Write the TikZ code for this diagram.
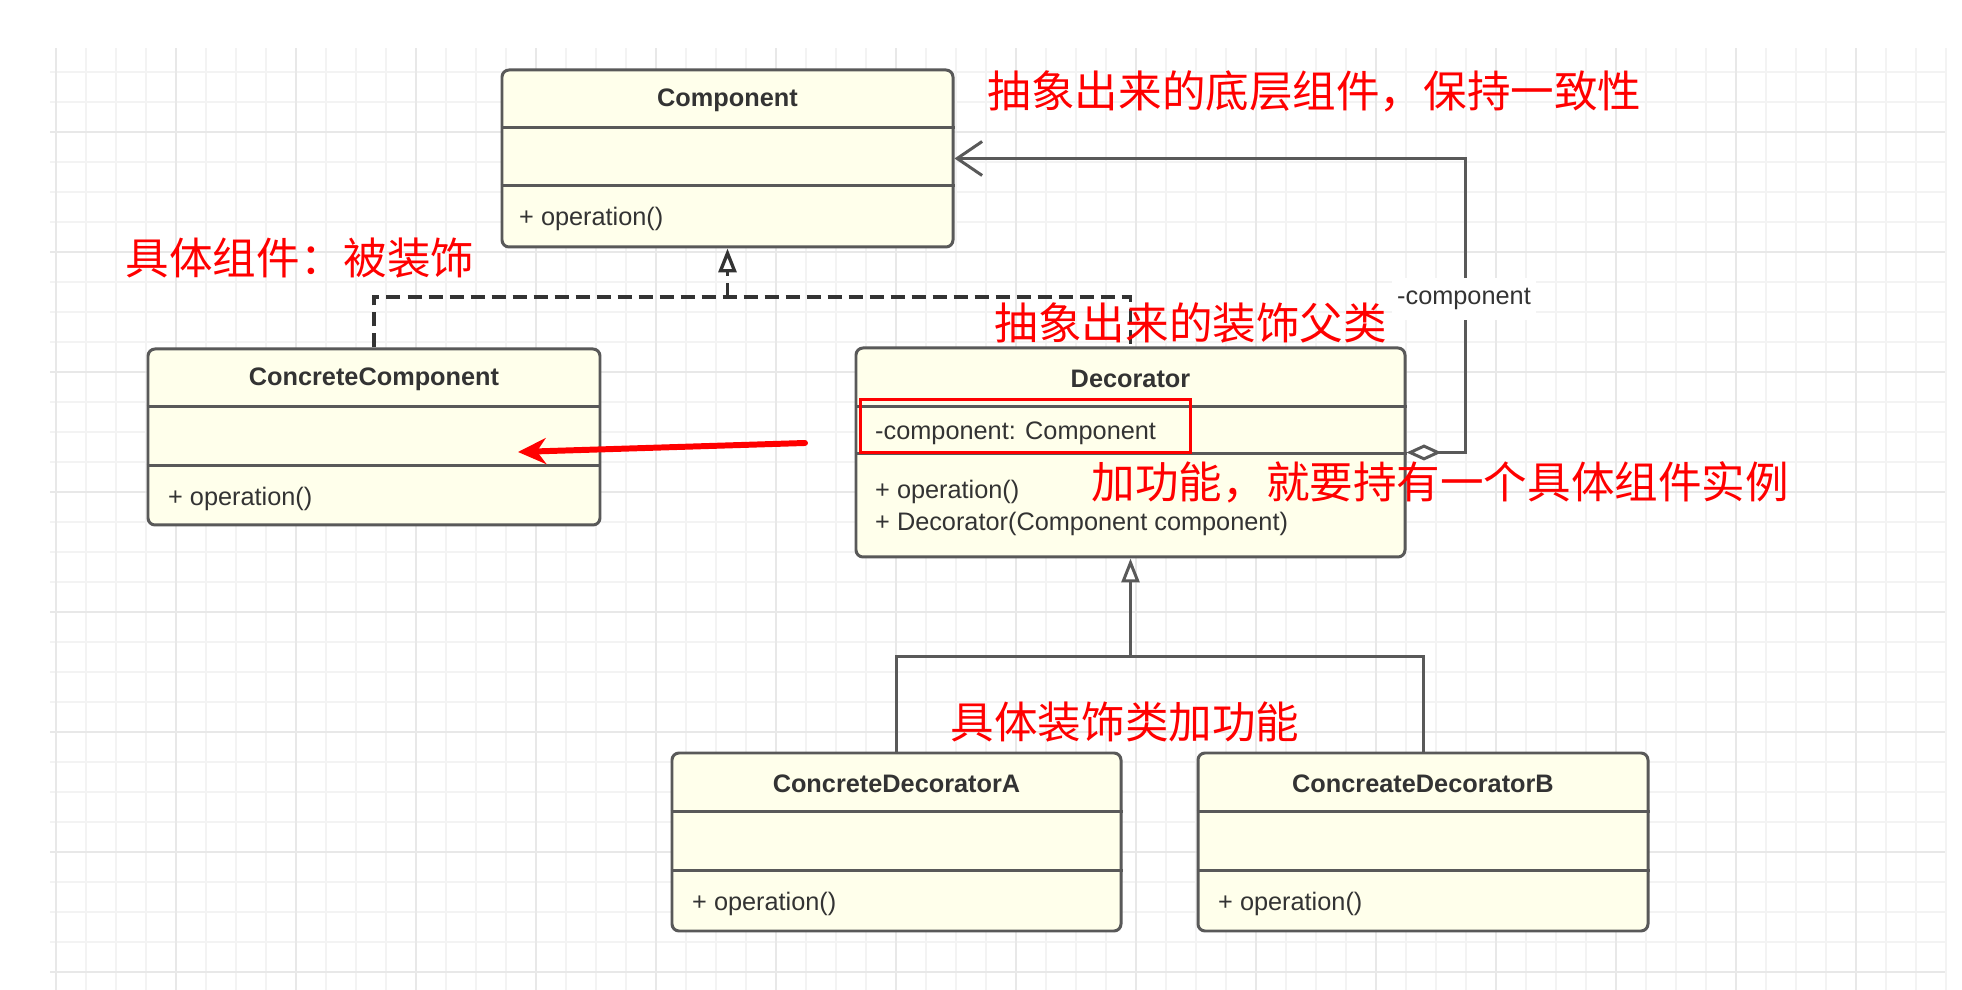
\documentclass[tikz,border=0pt]{standalone}
\usepackage{fontspec}
\setmainfont{Liberation Sans}
\newfontfamily\cjkfont{Noto Sans CJK SC}
\usepackage{xcolor}
\definecolor{GridMinor}{HTML}{F3F3F3}
\definecolor{GridMajor}{HTML}{E8E8E8}
\definecolor{ClassFill}{HTML}{FFFFEB}
\definecolor{ClassLine}{HTML}{595959}
\definecolor{ClassText}{HTML}{333333}
\definecolor{NoteRed}{HTML}{FF0000}
\usetikzlibrary{arrows.meta,positioning}
\tikzset{
  umlclass/.style={
    draw=ClassLine,
    fill=ClassFill,
    line width=0.85pt,
    rounded corners=2pt,
    inner sep=0pt
  },
  umlsep/.style={draw=ClassLine, line width=0.85pt},
  umltitle/.style={
    font=\fontsize{7.2pt}{8.6pt}\selectfont\bfseries,
    text=ClassText,
    inner sep=0pt
  },
  umlmember/.style={
    font=\fontsize{7.2pt}{9.1pt}\selectfont,
    text=ClassText,
    anchor=west,
    align=left,
    inner sep=0pt
  },
  umlline/.style={draw=ClassLine, line width=0.85pt},
  dashline/.style={draw=ClassText, line width=0.95pt, dash pattern=on 0.14cm off 0.07cm},
  inherit/.style={umlline, -{Triangle[open, length=0.24cm, width=0.18cm]}},
  realize/.style={dashline, -{Triangle[open, length=0.24cm, width=0.18cm]}},
  aggregate/.style={
    umlline,
    {Diamond[fill=white, length=0.35cm, width=0.16cm]}-{Straight Barb[length=0.25cm, width=0.34cm]}
  },
  rolelabel/.style={
    fill=white,
    font=\fontsize{7.2pt}{8.6pt}\selectfont,
    text=ClassText,
    inner xsep=1.5pt,
    inner ysep=3pt
  },
  note/.style={
    font=\cjkfont\fontsize{12.4pt}{14pt}\selectfont,
    text=NoteRed,
    anchor=west,
    inner sep=0pt
  },
  notebox/.style={draw=NoteRed, line width=0.85pt, inner sep=0pt},
  notearrow/.style={
    draw=NoteRed,
    line width=1.7pt,
    line cap=round,
    -{Stealth[length=0.28cm, width=0.26cm]}
  }
}

\begin{document}
\begin{tikzpicture}[x=1cm,y=1cm]
  \useasboundingbox (0,0) rectangle (19.62,9.90);
  \fill[white] (0,0) rectangle (19.62,9.90);
  % canvas grid
  \foreach \gx in {0,...,63}{\draw[GridMinor, line width=0.7pt] (0.56+0.3*\gx,0) -- ++(0,9.42);}
  \foreach \gy in {0,...,30}{\draw[GridMinor, line width=0.7pt] (0.50,9.18-0.3*\gy) -- ++(18.95,0);}
  \foreach \gx in {0,...,15}{\draw[GridMajor, line width=0.7pt] (0.56+1.2*\gx,0) -- ++(0,9.42);}
  \foreach \gy in {0,...,7}{\draw[GridMajor, line width=0.7pt] (0.50,8.58-1.2*\gy) -- ++(18.95,0);}

  % classes
  \node[umlclass, minimum width=4.51cm, minimum height=1.77cm] (comp) at (7.275,8.315) {};
  \node[umlclass, minimum width=4.52cm, minimum height=1.76cm] (cc) at (3.74,5.53) {};
  \node[umlclass, minimum width=5.49cm, minimum height=2.09cm] (dec) at (11.305,5.375) {};
  \node[umlclass, minimum width=4.49cm, minimum height=1.78cm] (cda) at (8.965,1.48) {};
  \node[umlclass, minimum width=4.50cm, minimum height=1.78cm] (cdb) at (14.23,1.48) {};
  \foreach \cls/\sa/\sb in {comp/0.59/1.17, cc/0.59/1.18, dec/0.60/1.07, cda/0.60/1.19, cdb/0.60/1.19}{
    \draw[umlsep] ([yshift=-\sa cm]\cls.north west) -- ([yshift=-\sa cm]\cls.north east);
    \draw[umlsep] ([yshift=-\sb cm]\cls.north west) -- ([yshift=-\sb cm]\cls.north east);
  }
  \node[umltitle] (compName) at ([yshift=-0.32cm]comp.north) {Component};
  \node[umltitle] (ccName) at ([yshift=-0.32cm]cc.north) {ConcreteComponent};
  \node[umltitle] (decName) at ([yshift=-0.32cm]dec.north) {Decorator};
  \node[umltitle] (cdaName) at ([yshift=-0.32cm]cda.north) {ConcreteDecoratorA};
  \node[umltitle] (cdbName) at ([yshift=-0.32cm]cdb.north) {ConcreateDecoratorB};
  \node[umlmember] (compOp) at ([xshift=0.18cm, yshift=0.30cm]comp.south west) {+ operation()};
  \node[umlmember] (ccOp) at ([xshift=0.21cm, yshift=0.28cm]cc.south west) {+ operation()};
  \node[umlmember] (decAttr) at ([xshift=0.20cm, yshift=-0.87cm]dec.north west) {-component: Component};
  \node[umlmember] (decOp) at ([xshift=0.20cm, yshift=0.67cm]dec.south west) {+ operation()};
  \node[umlmember] (decCtor) at ([xshift=0.20cm, yshift=0.35cm]dec.south west) {+ Decorator(Component component)};
  \node[umlmember] (cdaOp) at ([xshift=0.21cm, yshift=0.29cm]cda.south west) {+ operation()};
  \node[umlmember] (cdbOp) at ([xshift=0.21cm, yshift=0.29cm]cdb.south west) {+ operation()};

  % relations
  \coordinate (realJoin) at (comp.south |- 0,6.93);
  \draw[dashline] (cc.north) |- (dec.north |- realJoin) -- (dec.north);
  \draw[realize] (realJoin) -- (comp.south);
  \coordinate (inhJoin) at (dec.south |- 0,3.33);
  \draw[umlline] (cda.north) |- (cdb.north |- inhJoin) -- (cdb.north);
  \draw[inherit] (inhJoin) -- (dec.south);
  \draw[aggregate] (dec.east) -- ++(0.59,0) |- (comp.east);
  \node[rolelabel] (role) at (14.64,6.91) {-component};

  % red remarks
  \node[notebox, minimum width=3.30cm, minimum height=0.53cm] (attrMark) at (10.25,5.635) {};
  \coordinate (calloutFrom) at (8.05,5.47);
  \coordinate (calloutTo) at (5.18,5.38);
  \draw[notearrow] (calloutFrom) -- (calloutTo);
  \node[note] (noteComp) at (9.87,8.99) {抽象出来的底层组件，保持一致性};
  \node[note] (noteCC) at (1.25,7.32) {具体组件：被装饰};
  \node[note] (noteDec) at (9.94,6.67) {抽象出来的装饰父类};
  \node[note] (noteAgg) at (10.91,5.08) {加功能，就要持有一个具体组件实例};
  \node[note] (noteCD) at (9.50,2.68) {具体装饰类加功能};
\end{tikzpicture}
\end{document}
